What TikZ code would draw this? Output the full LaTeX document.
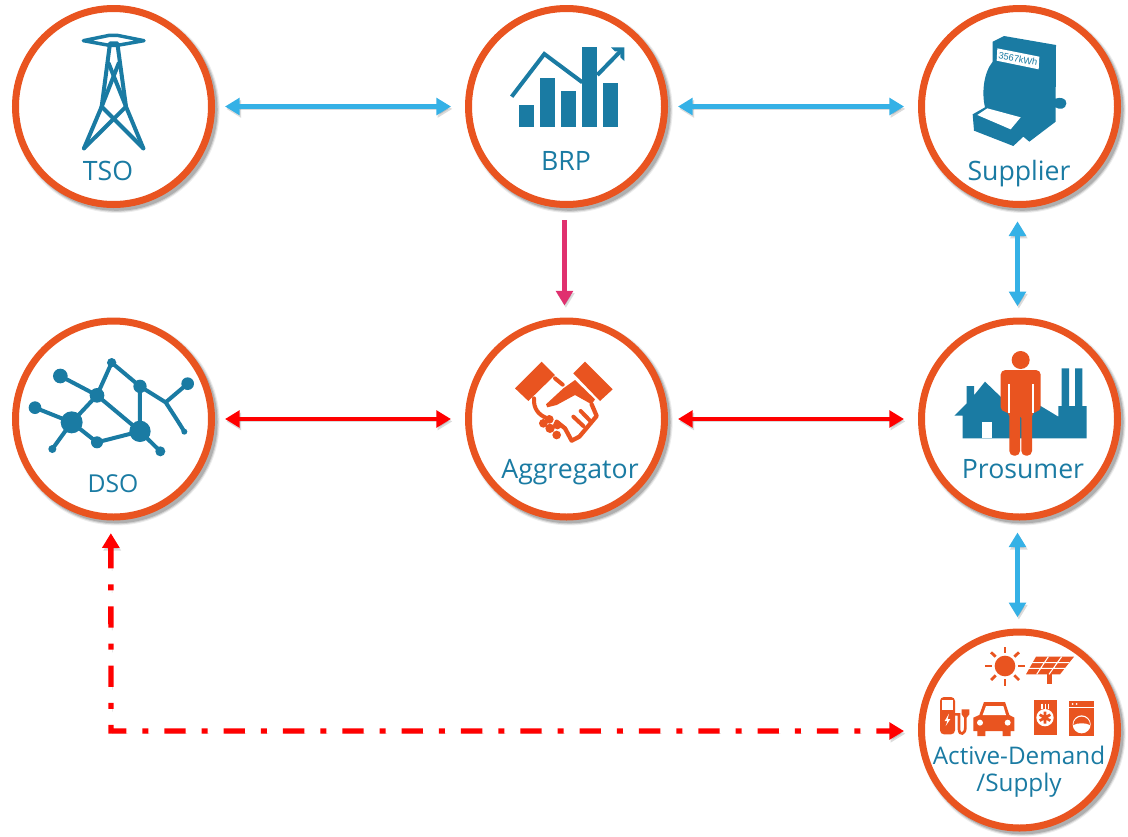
\documentclass[tikz,border=0pt]{standalone}
\usepackage{fontspec}
\setmainfont{Open Sans}
\newfontfamily\meterfont{Liberation Sans}
\usetikzlibrary{arrows.meta}
\definecolor{ringorange}{HTML}{E95420}
\definecolor{iconteal}{HTML}{1A7BA3}
\definecolor{linkblue}{HTML}{35B1E6}
\definecolor{linkpink}{HTML}{E0306F}
\tikzset{
  softshadow/.style={
    preaction={draw=black,opacity=.07,line width=#1+2.6pt,transform canvas={shift={(2.2pt,-2.4pt)}}},
    preaction={draw=black,opacity=.12,line width=#1+1pt,transform canvas={shift={(2.2pt,-2.4pt)}}},
    preaction={draw=black,opacity=.16,line width=#1-.6pt,transform canvas={shift={(2.2pt,-2.4pt)}}}},
  actor/.style={circle,draw=ringorange,fill=white,line width=5.25pt,minimum size=147pt,inner sep=0pt,softshadow=5.25pt},
  actorname/.style={anchor=base,text=iconteal,inner sep=0pt,font=\fontsize{#1}{#1}\selectfont},
  link/.style={line width=3.7pt,{Triangle[length=11pt,width=12.5pt]}-{Triangle[length=11pt,width=12.5pt]},shorten <=7.5pt,shorten >=10.5pt},
  shadelink/.style={preaction={draw=black,opacity=.14,transform canvas={shift={(1pt,-1.8pt)}}}},
  dashdot/.style={dash pattern=on 16pt off 12pt on 4.5pt off 12pt},
  shadedash/.style={preaction={draw=black,opacity=.14,dashdot,transform canvas={shift={(1pt,-2pt)}}}},
  icon/.style={line width=3pt,draw=iconteal,line join=round,line cap=round},
}
\begin{document}
\begin{tikzpicture}[x=.75pt,y=-.75pt]
  \useasboundingbox (0,0) rectangle (1128,836);
  % the actors
  \node[actor] at (113.5,106.5) (tso) {};
  \node[actor] at (566.5,106.5) (brp) {};
  \node[actor] at (1019.5,106.5) (supplier) {};
  \node[actor] at (113.5,419) (dso) {};
  \node[actor] at (566.5,419) (aggregator) {};
  \node[actor] at (1019.5,419) (prosumer) {};
  \node[actor] at (1019.5,730) (active) {};
  % the names
  \node[actorname=20] at (108,180) (tsoname) {TSO};
  \node[actorname=20] at (566,170) (brpname) {BRP};
  \node[actorname=20] at (1019,180) (suppliername) {Supplier};
  \node[actorname=18.5] at (113,492) (dsoname) {DSO};
  \node[actorname=20] at (570,478) (aggregatorname) {Aggregator};
  \node[actorname=20] at (1023,478) (prosumername) {Prosumer};
  \node[actorname=18.2] at (1019,764) (activename) {Active-Demand};
  \node[actorname=18.2] at (1019,791) (supplyname) {/Supply};
  % the links
  \draw[link,linkblue,shadelink] (tso) -- (brp);
  \draw[link,linkblue,shadelink] (brp) -- (supplier);
  \draw[link,red,shadelink] (dso) -- (aggregator);
  \draw[link,red,shadelink] (aggregator) -- (prosumer);
  \draw[linkpink,line width=3.7pt,-{Triangle[length=11pt,width=12.5pt]},shorten <=9pt,shorten >=9pt,shadelink] ([xshift=-1.5pt]brp.south) -- ([xshift=-1.5pt]aggregator.north);
  \draw[link,linkblue,shadelink,shorten <=10pt,shorten >=8.5pt] ([xshift=-1.5pt]supplier.south) -- ([xshift=-1.5pt]prosumer.north);
  \draw[link,linkblue,shadelink,shorten <=9pt,shorten >=8.5pt] ([xshift=-1.5pt]prosumer.south) -- ([xshift=-1.5pt]active.north);
  \coordinate (corner) at (111,731);
  \draw[link,red,line width=4pt,dashdot,shadedash,shorten <=9.5pt,shorten >=10.5pt] ([xshift=-2pt]dso.south) -- (corner) -- ([yshift=-.75pt]active.west);
  % pylon
  \begin{scope}[scale=1/3]
    \draw[icon] (252,445) -- (305,320) -- (330,130) -- (352,130) -- (378,320) -- (430,445);
    \draw[icon,line width=2.6pt] (250,122) -- (328,106) -- (352,106) -- (432,122) -- (352,136) -- (328,136) -- cycle;
    \draw[icon] (378,320) -- (326,190);
    \draw[icon] (305,320) -- (356,190);
    \draw[icon] (305,320) -- (430,445);
    \draw[icon] (378,320) -- (252,445);
  \end{scope}
  % chart
  \begin{scope}[shift={(460,0)},scale=1/3]
    \fill[iconteal] (177,315) rectangle (222,380);
    \fill[iconteal] (241,233) rectangle (286,380);
    \fill[iconteal] (304,274) rectangle (349,380);
    \fill[iconteal] (367,141) rectangle (412,380);
    \fill[iconteal] (430,250) rectangle (475,380);
    \draw[icon,line cap=butt,line join=miter] (155,290) -- (253,162) -- (367,247);
    \draw[icon,line cap=butt] (412,225) -- (485,150);
    \fill[iconteal] (453,142) -- (493,142) -- (493,183) -- (481,172) -- (481,154) -- (465,154) -- cycle;
  \end{scope}
  % meter
  \begin{scope}[shift={(910,0)},scale=1/3]
    \fill[iconteal] (248,125) -- (282,108) -- (438,135) -- (437,296) .. controls (450,290) and (470,295) .. (469,310) .. controls (468,328) and (448,330) .. (437,322) -- (437,365) -- (358,425) -- (340,410) -- (310,438) -- (192,392) -- (188,343) -- (225,322) .. controls (215,280) and (220,220) .. (248,185) -- cycle;
    \fill[white] (262,145) -- (388,170) -- (386,208) -- (260,182) -- cycle;
    \fill[white] (202,345) -- (232,325) -- (332,352) -- (302,388) -- cycle;
    \node[rotate=-11,text=iconteal,inner sep=0pt,font=\meterfont\fontsize{7}{7}\selectfont] at (324,176) (meterread) {3567kWh};
  \end{scope}
  % network
  \begin{scope}[shift={(0,310)},scale=1/3]
    \draw[icon] (181,198) -- (291,256) -- (335,158) -- (420,229) -- (420,364) -- (291,256) -- (215,337) -- (105,293);
    \draw[icon] (157,417) -- (215,337) -- (291,397) -- (420,364) -- (481,424);
    \draw[icon] (420,229) -- (497,277) -- (563,221);
    \draw[icon] (497,277) .. controls (515,305) and (535,335) .. (553,365);
    \fill[iconteal] (181,198) circle(22);
    \fill[iconteal] (105,293) circle(19);
    \fill[iconteal] (215,337) circle(33);
    \fill[iconteal] (157,417) circle(12);
    \fill[iconteal] (291,256) circle(22);
    \fill[iconteal] (335,158) circle(14);
    \fill[iconteal] (420,229) circle(20);
    \fill[iconteal] (563,221) circle(19);
    \fill[iconteal] (420,364) circle(32);
    \fill[iconteal] (291,397) circle(18);
    \fill[iconteal] (481,424) circle(15);
    \fill[iconteal] (553,365) circle(9);
  \end{scope}
  % handshake
  \begin{scope}[shift={(460,310)},scale=1/3,ringorange]
    \fill (165,235) -- (245,155) -- (285,195) -- (205,273) -- cycle;
    \fill (340,190) -- (375,155) -- (458,238) -- (420,273) -- cycle;
    \fill (345,210) -- (405,268) -- (395,283) -- (345,255) -- (290,285) -- (262,292) -- (258,283) -- (310,235) -- cycle;
    \draw[line width=3pt,line cap=round] (285,205) -- (308,224);
    \draw[line width=3pt,line cap=round,line join=round] (222,265) .. controls (220,295) and (235,315) .. (262,325);
    \draw[line width=3.2pt,line cap=round,line join=round] (395,283) -- (410,318) -- (358,380) -- (335,392) -- (315,355) -- (290,335);
    \draw[line width=3pt,line cap=round] (340,320) -- (370,348);
    \draw[line width=3pt,line cap=round] (362,303) -- (390,332);
    \fill (250,340) circle(13);
    \fill (268,328) circle(13);
    \fill (270,355) circle(14);
    \fill (290,375) circle(13);
    \fill (292,345) circle(13);
  \end{scope}
  % house, factory and person
  \begin{scope}[shift={(910,310)},scale=1/3]
    \fill[iconteal] (133,317) -- (170,280) -- (170,228) -- (192,228) -- (192,256) -- (225,215) -- (280,268) -- (392,288) -- (445,320) -- (445,288) -- (455,288) -- (455,175) -- (477,175) -- (477,288) -- (495,288) -- (495,175) -- (517,175) -- (517,288) -- (530,288) -- (530,385) -- (158,385) -- (158,317) -- cycle;
    \fill[white] (215,337) rectangle (245,385);
    \fill[ringorange] (332,150) circle(27);
    \fill[ringorange,rounded corners=3.5pt] (272,305) -- (272,180) -- (392,180) -- (392,305) -- (366,305) -- (366,437) -- (334,437) -- (334,310) -- (330,310) -- (330,437) -- (298,437) -- (298,305) -- cycle;
    \draw[white,line width=1.3pt] (296,222) -- (296,310);
    \draw[white,line width=1.3pt] (368,222) -- (368,310);
  \end{scope}
  % appliances
  \begin{scope}[shift={(910,621)},scale=1/3,ringorange]
    \fill (285,135) circle(31);
    \draw[line width=2.1pt] (285,95) -- (285,77) (285,175) -- (285,195) (245,135) -- (226,135) (325,135) -- (345,135);
    \draw[line width=2.1pt] (257,107) -- (243,94) (313,107) -- (327,94) (257,163) -- (243,177) (313,163) -- (327,177);
    \fill (378,107) -- (492,107) -- (450,160) -- (348,160) -- cycle;
    \fill (410,160) rectangle (425,188);
    \draw[white,line width=.8pt] (415,107) -- (380,160) (455,107) -- (417,160) (365,125) -- (478,125) (355,142) -- (465,142);
    \fill[rounded corners=3pt] (90,228) rectangle (135,340);
    \fill[white] (97,236) rectangle (128,268);
    \fill[white] (117,278) -- (104,300) -- (112,300) -- (107,315) -- (121,294) -- (113,294) -- cycle;
    \draw[line width=2pt] (135,280) -- (147,280) -- (147,325) .. controls (148,345) and (166,340) .. (166,320) -- (166,285);
    \fill (155,265) -- (178,265) -- (178,280) -- (170,290) -- (162,290) -- (155,280) -- cycle;
    \fill (190,290) -- (208,282) -- (222,243) -- (285,243) -- (298,282) -- (313,290) -- (313,330) -- (302,330) -- (302,345) -- (278,345) -- (278,330) -- (226,330) -- (226,345) -- (202,345) -- (202,330) -- (190,330) -- cycle;
    \fill[white] (228,255) -- (280,255) -- (288,282) -- (218,282) -- cycle;
    \fill[white] (210,305) circle(9);
    \fill[white] (293,305) circle(9);
    \fill (371,238) rectangle (442,342);
    \fill[white] (405,290) circle(26);
    \draw[line width=2pt] (405,290) -- (405,272) (405,290) -- (421,281) (405,290) -- (421,299) (405,290) -- (405,308) (405,290) -- (389,299) (405,290) -- (389,281);
    \draw[white,line width=.8pt] (396,248) -- (396,265) (406,248) -- (406,265) (416,248) -- (416,265);
    \fill (478,240) rectangle (553,345);
    \draw[white,line width=.8pt] (478,259) -- (553,259);
    \fill[white] (515,310) circle(27);
    \fill (490,312) .. controls (500,305) and (530,305) .. (540,312) arc(0:-180:25) -- cycle;
    \fill[white] (488,249) circle(3);
    \fill[white] (500,249) circle(3);
  \end{scope}
\end{tikzpicture}
\end{document}
